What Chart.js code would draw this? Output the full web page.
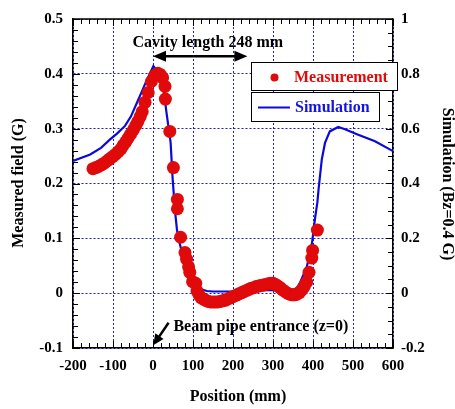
<!DOCTYPE html>
<html><head><meta charset="utf-8">
<script src="https://cdn.jsdelivr.net/npm/chart.js@4/dist/chart.umd.min.js"></script>
<style>html,body{margin:0;padding:0;background:#fff;}canvas{display:block;}</style>
</head><body>
<canvas id="c" width="455" height="409" style="width:455px;height:409px"></canvas>
<script>
// ---- Data ----
const measX = [-150,-143,-136,-129,-122,-115,-108,-101,-94,-87,-80,-74,-68,-62,-56,-49,-43,-38,-32,-27,-20,-12,-4,4,12,18,24,30,31,42,51,61,61,69,80,84,89,92,99,107,110,
  115,120,126,132,138,144,150,156,162,168,174,180,186,192,198,204,210,216,222,228,234,240,246,252,258,264,270,276,282,288,294,300,306,312,318,324,330,336,342,348,354,360,366,372,378,384,390,397,399,411];
const measY = [0.227,0.229,0.231,0.234,0.237,0.241,0.245,0.249,0.253,0.258,0.263,0.270,0.276,0.283,0.290,0.298,0.306,0.313,0.322,0.331,0.348,0.366,0.386,0.397,0.401,0.399,0.393,0.377,0.354,0.295,0.229,0.171,0.154,0.102,0.074,0.062,0.048,0.038,0.021,0.018,0.004,
  -0.003,-0.008,-0.011,-0.013,-0.015,-0.016,-0.016,-0.016,-0.016,-0.015,-0.014,-0.013,-0.011,-0.009,-0.007,-0.005,-0.003,-0.001,0.001,0.003,0.005,0.007,0.009,0.010,0.012,0.013,0.014,0.015,0.016,0.017,0.018,0.018,0.016,0.013,0.010,0.006,0.003,0.000,-0.002,-0.003,-0.003,-0.002,0.001,0.006,0.012,0.020,0.038,0.064,0.078,0.115];
const simX = [-200,-157,-130,-108,-90,-70,-55,-41,-28,-16,-8,1,13,26,34,44,49,55,60,67,72,80,92,100,110,120,135,150,200,250,300,320,350,360,368,384,392,398,405,411,414,422,430,442,463,480,513,555,600];
const simY = [0.482,0.506,0.530,0.560,0.582,0.610,0.645,0.692,0.735,0.776,0.800,0.828,0.806,0.746,0.656,0.550,0.42,0.30,0.23,0.18,0.15,0.12,0.064,0.04,0.022,0.014,0.008,0.006,0.006,0.008,0.012,0.010,0.012,0.02,0.04,0.094,0.14,0.188,0.272,0.332,0.38,0.488,0.548,0.59,0.606,0.598,0.578,0.554,0.518];
const xRange = [-200, 600];
const yRange = [-0.1, 0.5];
const y2Range = [-0.2, 1];
const seriesNames = ['Measurement', 'Simulation'];
const xTitle = 'Position (mm)';
const yTitle = 'Measured field (G)';
const y2Title = 'Simulation (Bz=0.4 G)';
const cavityText = 'Cavity length 248 mm';
const beamText = 'Beam pipe entrance (z=0)';

const F = "'Liberation Serif','Times New Roman',serif";
const RED = '#e00a0a';
const BLUE = '#0a0ad8';
const GRID = '#1c1cd8';

const fmt = v => String(parseFloat(Number(v).toFixed(2)));

function arrowHead(ctx, x1, y1, x2, y2, len, half) {
  const a = Math.atan2(y2 - y1, x2 - x1);
  ctx.beginPath();
  ctx.moveTo(x2, y2);
  ctx.lineTo(x2 - len*Math.cos(a) + half*Math.sin(a), y2 - len*Math.sin(a) - half*Math.cos(a));
  ctx.lineTo(x2 - len*Math.cos(a) - half*Math.sin(a), y2 - len*Math.sin(a) + half*Math.cos(a));
  ctx.closePath();
  ctx.fill();
}

const decor = {
  id: 'decor',
  afterDatasetsDraw(chart) {
    const ctx = chart.ctx;
    const {left, right, top, bottom} = chart.chartArea;
    const sx = chart.scales.x, sy = chart.scales.y, sy2 = chart.scales.y2;
    ctx.save();
    ctx.strokeStyle = '#000'; ctx.lineWidth = 1.5;
    ctx.beginPath(); ctx.moveTo(left, top); ctx.lineTo(right, top); ctx.stroke();
    ctx.lineWidth = 1;
    for (let v = xRange[0]; v <= xRange[1]; v += 20) {
      const px = Math.round(sx.getPixelForValue(v)) + 0.5;
      const L = (Math.round(v) % 100 === 0) ? 7 : 5;
      ctx.beginPath(); ctx.moveTo(px, bottom); ctx.lineTo(px, bottom - L); ctx.stroke();
      ctx.beginPath(); ctx.moveTo(px, top); ctx.lineTo(px, top + L); ctx.stroke();
    }
    for (let i = 0; i <= 30; i++) {
      const v = yRange[0] + i * 0.02;
      const py = Math.round(sy.getPixelForValue(v)) + 0.5;
      const L = (i % 5 === 0) ? 7 : 5;
      ctx.beginPath(); ctx.moveTo(left, py); ctx.lineTo(left + L, py); ctx.stroke();
    }
    for (let i = 0; i <= 24; i++) {
      const v = y2Range[0] + i * 0.05;
      const py = Math.round(sy2.getPixelForValue(v)) + 0.5;
      const L = (i % 4 === 0) ? 7 : 5;
      ctx.beginPath(); ctx.moveTo(right, py); ctx.lineTo(right - L, py); ctx.stroke();
    }
    ctx.fillStyle = '#000'; ctx.strokeStyle = '#000'; ctx.lineWidth = 2.5;
    const ax1 = sx.getPixelForValue(0), ax2 = sx.getPixelForValue(236), ay = sy.getPixelForValue(0.432);
    ctx.beginPath(); ctx.moveTo(ax1 + 8, ay); ctx.lineTo(ax2 - 8, ay); ctx.stroke();
    arrowHead(ctx, ax2, ay, ax1, ay, 13, 5.5);
    arrowHead(ctx, ax1, ay, ax2, ay, 13, 5.5);
    ctx.font = 'bold 16px ' + F; ctx.textAlign = 'center'; ctx.textBaseline = 'middle';
    ctx.fillText(cavityText, sx.getPixelForValue(137), sy.getPixelForValue(0.457));
    const bx1 = sx.getPixelForValue(39), by1 = sy.getPixelForValue(-0.054);
    const bx2 = sx.getPixelForValue(0.5), by2 = sy.getPixelForValue(-0.095);
    ctx.lineWidth = 2.5;
    ctx.beginPath(); ctx.moveTo(bx1, by1); ctx.lineTo(bx2 + (bx1-bx2)*0.35, by2 + (by1-by2)*0.35); ctx.stroke();
    arrowHead(ctx, bx1, by1, bx2, by2, 11, 5);
    ctx.textAlign = 'left';
    ctx.fillText(beamText, sx.getPixelForValue(51), sy.getPixelForValue(-0.061));
    ctx.lineWidth = 1; ctx.strokeStyle = '#000'; ctx.fillStyle = '#fff';
    ctx.fillRect(251, 62, 147, 29); ctx.strokeRect(251.5, 62.5, 146, 28);
    ctx.fillRect(251, 92, 129, 30); ctx.strokeRect(251.5, 92.5, 128, 29);
    ctx.fillStyle = RED;
    ctx.beginPath(); ctx.arc(274.5, 77.5, 4, 0, Math.PI*2); ctx.fill();
    ctx.font = 'bold 16px ' + F; ctx.textBaseline = 'middle'; ctx.textAlign = 'left';
    ctx.fillText(seriesNames[0], 294, 78);
    ctx.strokeStyle = BLUE; ctx.lineWidth = 2;
    ctx.beginPath(); ctx.moveTo(258, 107.5); ctx.lineTo(290, 107.5); ctx.stroke();
    ctx.fillStyle = '#1414e0';
    ctx.fillText(seriesNames[1], 295, 108);
    ctx.fillStyle = '#000';
    ctx.textAlign = 'center';
    ctx.fillText(xTitle, 238, 397);
    ctx.save(); ctx.translate(19, 183); ctx.rotate(-Math.PI/2); ctx.fillText(yTitle, 0, 0); ctx.restore();
    ctx.save(); ctx.translate(447, 184); ctx.rotate(Math.PI/2); ctx.fillText(y2Title, 0, 0); ctx.restore();
    ctx.restore();
  }
};

const tickFont = {family: F, size: 15, weight: 'bold'};

new Chart(document.getElementById('c'), {
  type: 'scatter',
  data: {
    datasets: [
      {
        label: seriesNames[0],
        data: measX.map((x, i) => ({x, y: measY[i]})),
        backgroundColor: RED, borderColor: RED, borderWidth: 0,
        pointRadius: 6.5, pointHoverRadius: 6.5,
        xAxisID: 'x', yAxisID: 'y'
      },
      {
        label: seriesNames[1],
        data: simX.map((x, i) => ({x, y: simY[i]})),
        showLine: true, borderColor: BLUE, borderWidth: 2.2, pointRadius: 0,
        fill: false, tension: 0,
        xAxisID: 'x', yAxisID: 'y2'
      }
    ]
  },
  options: {
    responsive: false, animation: false, devicePixelRatio: 1,
    layout: {padding: {top: 14, left: 0, right: 0, bottom: 0}},
    plugins: {legend: {display: false}, tooltip: {enabled: false}},
    scales: {
      x: {
        type: 'linear', position: 'bottom', min: xRange[0], max: xRange[1],
        ticks: {stepSize: 100, color: '#000', font: tickFont, padding: 9, maxRotation: 0, autoSkip: false, callback: v => fmt(v)},
        grid: {color: GRID, lineWidth: 1, drawTicks: false},
        border: {display: true, color: '#000', width: 1.5, dash: [2, 2]},
        afterFit(s) { s.height = 61; }
      },
      y: {
        type: 'linear', position: 'left', min: yRange[0], max: yRange[1],
        ticks: {stepSize: 0.1, color: '#000', font: tickFont, padding: 10, callback: v => fmt(v)},
        grid: {color: GRID, lineWidth: 1, drawTicks: false},
        border: {display: true, color: '#000', width: 1.5, dash: [2, 2]},
        afterFit(s) { s.width = 73; }
      },
      y2: {
        type: 'linear', position: 'right', min: y2Range[0], max: y2Range[1],
        ticks: {stepSize: 0.2, color: '#000', font: tickFont, padding: 8, callback: v => fmt(v)},
        grid: {display: false, drawTicks: false},
        border: {display: true, color: '#000', width: 1.5},
        afterFit(s) { s.width = 62; }
      }
    }
  },
  plugins: [decor]
});
</script>
</body></html>
